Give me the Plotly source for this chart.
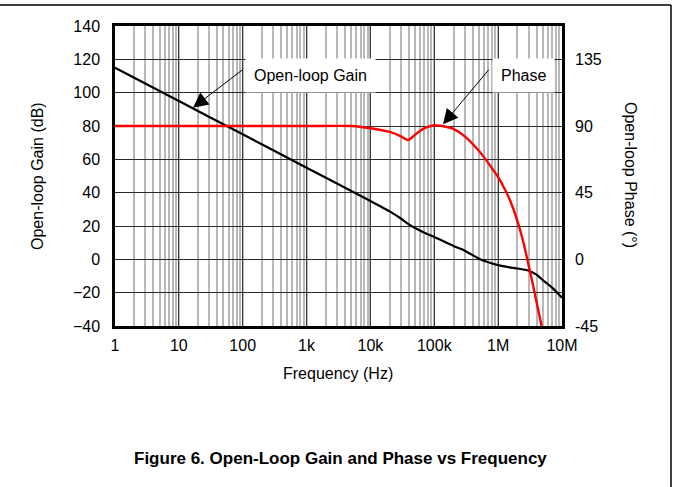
import plotly.graph_objects as go

# ---- data ----
gain_freq = [1, 10, 100, 1e3, 1e4, 2e4, 3e4, 4e4, 5e4, 7e4, 1e5, 2e5, 3e5, 5e5, 7e5,
             1e6, 1.5e6, 2e6, 3e6, 4e6, 5e6, 7e6, 1e7]
gain_db = [115, 95, 75, 55, 35, 28.8, 24.5, 21, 18.8, 16, 13.4, 8, 5.2, 0.4, -1.8,
           -3.5, -4.8, -5.5, -6.8, -9.2, -12.5, -17, -23]

phase_freq = [1, 1e3, 5e3, 1e4, 2e4, 3e4, 3.5e4, 3.8e4, 4.2e4, 5e4, 6e4, 7.5e4, 1e5, 1.5e5, 2e5,
              3e5, 4.6e5, 6e5, 8e5, 1e6, 1.25e6, 1.53e6, 2e6, 2.5e6, 3e6, 3.5e6, 4e6, 4.8e6]
phase_deg = [90, 90, 90, 88.5, 86, 83, 81.3, 80.6, 81.3, 84, 86.8, 89, 90.5, 89.5, 88,
             83, 75, 69, 61.5, 55.5, 48, 40, 26, 11, -4, -17, -29, -45]

x_tickvals = [1, 10, 100, 1e3, 1e4, 1e5, 1e6, 1e7]
x_ticktext = ["1", "10", "100", "1k", "10k", "100k", "1M", "10M"]
y_tickvals = [-40, -20, 0, 20, 40, 60, 80, 100, 120, 140]
y_ticktext = ["\u221240", "\u221220", "0", "20", "40", "60", "80", "100", "120", "140"]
y2_tickvals = [-45, 0, 45, 90, 135]
y2_ticktext = ["-45", "0", "45", "90", "135"]

FONT = "Liberation Sans, Arial, sans-serif"
FS = 16

# plot-area geometry in pixels
W, H = 673, 487
L, R, T, B = 115, 562, 26, 326


def px_x(p):
    return (p - L) / (R - L)


def px_y(p):
    return (B - p) / (B - T)


fig = go.Figure()
fig.add_trace(go.Scatter(x=gain_freq, y=gain_db, mode="lines",
                         line=dict(color="black", width=2.2, shape="spline", smoothing=0.5),
                         showlegend=False, yaxis="y"))
fig.add_trace(go.Scatter(x=phase_freq, y=phase_deg, mode="lines",
                         line=dict(color="#ff0000", width=2.4, shape="spline", smoothing=0.5),
                         showlegend=False, yaxis="y2"))

fig.update_layout(
    width=W, height=H,
    margin=dict(l=L, r=W - R, t=T, b=H - B),
    paper_bgcolor="white", plot_bgcolor="white",
    font=dict(family=FONT, size=FS, color="black"),
    xaxis=dict(type="log", range=[0, 7], tickvals=x_tickvals, ticktext=x_ticktext,
               showgrid=True, gridcolor="#3a3a3a", gridwidth=1.3,
               minor=dict(dtick="D1", showgrid=True, gridcolor="#b8b8b8", gridwidth=1.6, ticklen=0),
               showline=True, linecolor="black", linewidth=2.5, mirror=True,
               ticks="", ticklabelstandoff=3, zeroline=False),
    yaxis=dict(range=[-40, 140], tickvals=y_tickvals, ticktext=y_ticktext,
               showgrid=True, gridcolor="#2a2a2a", gridwidth=1.1,
               showline=True, linecolor="black", linewidth=2.5, mirror=True,
               ticks="", ticklabelstandoff=9, zeroline=False),
    yaxis2=dict(range=[-45, 157.5], tickvals=y2_tickvals, ticktext=y2_ticktext,
                overlaying="y", side="right", showgrid=False, zeroline=False,
                showline=False, ticks="", ticklabelstandoff=12),
)

C = dict(xanchor="center", yanchor="middle", showarrow=False)
ann = []
# axis titles
ann.append(dict(text="Frequency (Hz)", x=px_x(338), y=px_y(373), xref="paper", yref="paper",
                font=dict(size=FS), **C))
ann.append(dict(text="Open-loop Gain (dB)", x=px_x(37), y=px_y(176), xref="paper", yref="paper",
                textangle=-90, font=dict(size=FS), **C))
ann.append(dict(text="Open-loop Phase (\u00b0)", x=px_x(631), y=px_y(175), xref="paper", yref="paper",
                textangle=90, font=dict(size=FS), **C))
# caption
ann.append(dict(text="<b>Figure 6. Open-Loop Gain and Phase vs Frequency</b>", x=px_x(340), y=px_y(458),
                xref="paper", yref="paper", font=dict(size=17), **C))
# label boxes
ann.append(dict(text="Open-loop Gain", x=px_x(310), y=px_y(76), xref="paper", yref="paper",
                bgcolor="white", borderpad=8, font=dict(size=FS), **C))
ann.append(dict(text="Phase", x=px_x(523), y=px_y(76), xref="paper", yref="paper",
                bgcolor="white", borderpad=8, font=dict(size=FS), **C))
# arrows
ann.append(dict(text="", x=1.221, y=91, xref="x", yref="y", showarrow=True, ax=51, ay=-39,
                arrowhead=2, arrowsize=3, arrowwidth=1, arrowcolor="black"))
ann.append(dict(text="", x=5.136, y=81, xref="x", yref="y", showarrow=True, ax=47, ay=-56,
                arrowhead=2, arrowsize=3, arrowwidth=1, arrowcolor="black"))
fig.update_layout(annotations=ann)

# outer frame lines
fig.add_shape(type="line", xref="paper", yref="paper", x0=px_x(0), x1=px_x(671), y0=px_y(5), y1=px_y(5),
              line=dict(color="black", width=1.5), layer="above")
fig.add_shape(type="line", xref="paper", yref="paper", x0=px_x(671), x1=px_x(671), y0=px_y(5), y1=px_y(487),
              line=dict(color="black", width=1.5), layer="above")

fig.write_html("out.html", config={"displayModeBar": False},
               post_script="document.body.style.margin='0px';")
